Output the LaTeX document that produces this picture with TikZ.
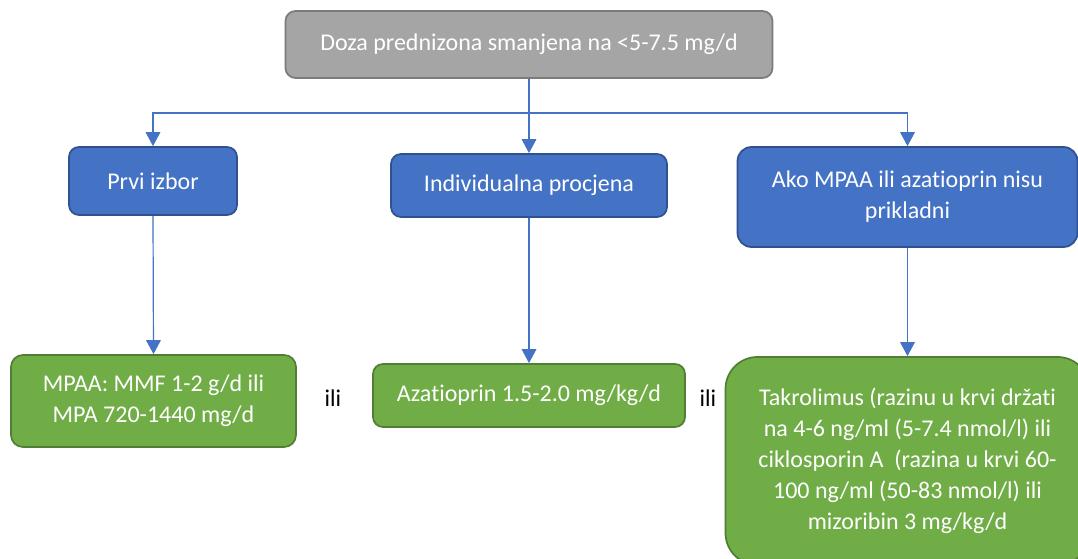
\documentclass[tikz,border=0pt]{standalone}
\usepackage{fontspec}
\setmainfont{Carlito}[Ligatures=NoCommon,RawFeature={-liga;-clig;-calt;-dlig}]
\usetikzlibrary{arrows.meta}
\definecolor{bluefill}{HTML}{4472C4}
\definecolor{blueline}{HTML}{2F528F}
\definecolor{greenfill}{HTML}{70AD47}
\definecolor{greenline}{HTML}{507E32}
\definecolor{grayfill}{HTML}{A5A5A5}
\definecolor{grayline}{HTML}{7B7B7B}
\definecolor{connblue}{HTML}{4472C4}
\begin{document}
\begin{tikzpicture}[x=0.75pt,y=-0.75pt,
  font=\fontsize{18}{23.25}\selectfont,
  basebox/.style={rectangle, line width=1.3pt, align=center, text=white, inner sep=0pt},
  graybox/.style={basebox, fill=grayfill, draw=grayline, rounded corners=7.5pt},
  bluebox/.style={basebox, fill=bluefill, draw=blueline},
  greenbox/.style={basebox, fill=greenfill, draw=greenline},
  conn/.style={draw=connblue, line width=0.9pt},
  arr/.style={conn, -{Triangle[length=10.5pt,width=11pt]}},
  orlabel/.style={text=black, inner sep=0pt}
]
\useasboundingbox (0,0) rectangle (1078,559);
\clip (0,0) rectangle (1078,559);

\node[graybox, minimum width=365.25pt, minimum height=50.25pt] (top) at (529,44.5)
  {Doza prednizona smanjena na <5-7.5 mg/d};

\node[bluebox, rounded corners=7.5pt, minimum width=126pt, minimum height=51pt] (prvi) at (153,181) {Prvi izbor};
\node[bluebox, rounded corners=7.5pt, minimum width=207pt, minimum height=47.25pt] (indiv) at (529,185.5) {Individualna procjena};
\node[bluebox, rounded corners=10.5pt, minimum width=255pt, minimum height=75pt] (ako) at (907.5,197)
  {Ako MPAA ili azatioprin nisu\\prikladni};

\node[greenbox, rounded corners=9pt, minimum width=213.75pt, minimum height=69pt] (mpaa) at (153.5,401)
  {MPAA: MMF 1-2 g/d ili\\MPA 720-1440 mg/d};
\node[greenbox, rounded corners=7.5pt, minimum width=234pt, minimum height=47.25pt] (aza) at (529,395.5)
  {Azatioprin 1.5-2.0 mg/kg/d};
\node[greenbox, rounded corners=24pt, minimum width=273pt, minimum height=156pt] (tak) at (907.5,461)
  {Takrolimus (razinu u krvi držati\\na 4-6 ng/ml (5-7.4 nmol/l) ili\\ciklosporin A\ \ (razina u krvi 60-\\100 ng/ml (50-83 nmol/l) ili\\mizoribin 3 mg/kg/d};

\node[orlabel] (ili1) at (333,398) {ili};
\node[orlabel] (ili2) at (708,398) {ili};

\coordinate (hub) at (529,113);
\draw[conn] (top.south) -- (hub);
\draw[arr] (hub) -| (prvi.north);
\draw[arr] (hub) -- (indiv.north);
\draw[arr] (hub) -| (ako.north);

\draw[arr] (prvi.south) -- (mpaa.north);
\draw[arr] (indiv.south) -- (aza.north);
\draw[arr] (ako.south) -- (tak.north);
\end{tikzpicture}
\end{document}
